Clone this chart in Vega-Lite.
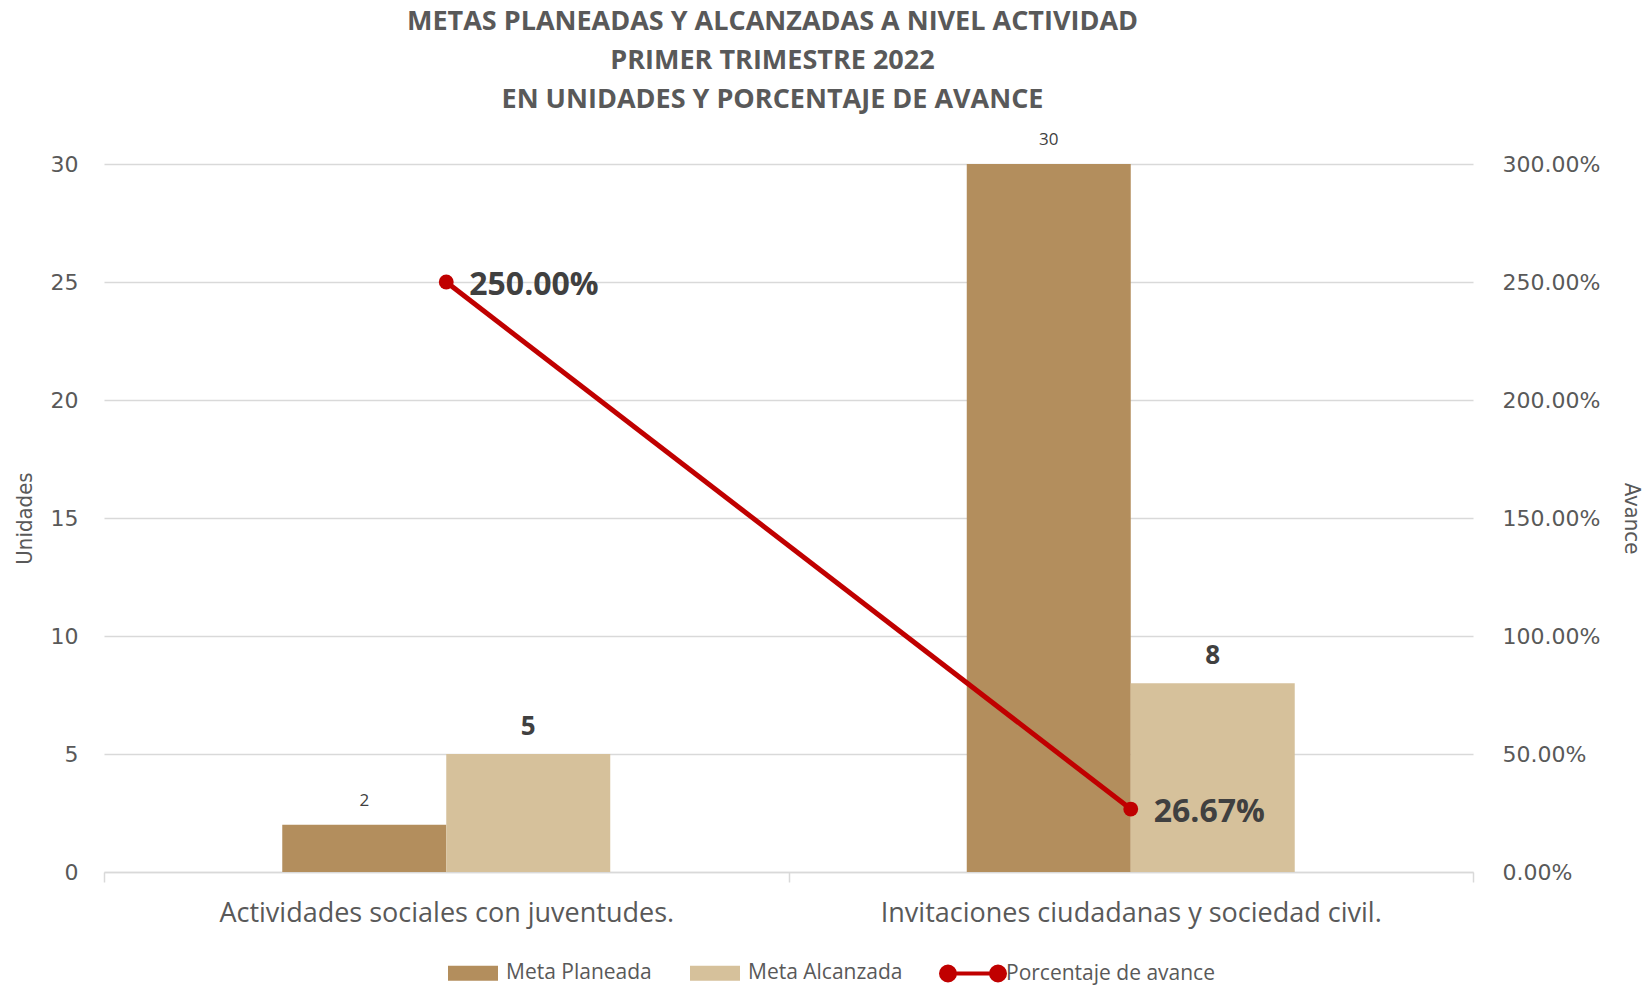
{
  "$schema": "https://vega.github.io/schema/vega-lite/v6.json",
  "width": 1369,
  "height": 708,
  "autosize": {"type": "none"},
  "padding": {"left": 104, "top": 164, "right": 174, "bottom": 113},
  "background": "white",
  "config": {"view": {"stroke": null}},
  "title": {
    "text": ["METAS PLANEADAS Y ALCANZADAS A NIVEL ACTIVIDAD", "PRIMER TRIMESTRE 2022", "EN UNIDADES Y PORCENTAJE DE AVANCE"],
    "font": "Open Sans",
    "fontSize": 27,
    "fontWeight": "bold",
    "color": "#595959",
    "lineHeight": 39,
    "anchor": "middle",
    "offset": 17,
    "dx": -16
  },
  "datasets": {
    "metas": [
      {"categoria": "Actividades sociales con juventudes.", "serie": "Meta Planeada", "valor": 2},
      {"categoria": "Actividades sociales con juventudes.", "serie": "Meta Alcanzada", "valor": 5},
      {"categoria": "Invitaciones ciudadanas y sociedad civil.", "serie": "Meta Planeada", "valor": 30},
      {"categoria": "Invitaciones ciudadanas y sociedad civil.", "serie": "Meta Alcanzada", "valor": 8}
    ],
    "avance": [
      {"categoria": "Actividades sociales con juventudes.", "avance": 2.5},
      {"categoria": "Invitaciones ciudadanas y sociedad civil.", "avance": 0.2667}
    ]
  },
  "layer": [
    {
      "data": {"name": "metas"},
      "encoding": {
        "x": {
          "field": "categoria", "type": "nominal", "sort": null,
          "scale": {"paddingInner": 0, "paddingOuter": 0},
          "axis": {
            "title": null, "labelAngle": 0, "labelFont": "Open Sans", "labelFontSize": 27, "labelLimit": 0,
            "labelColor": "#595959", "labelPadding": 18, "tickBand": "extent", "tickSize": 10,
            "tickColor": "#D9D9D9", "tickWidth": 1.5, "domainColor": "#D9D9D9", "domainWidth": 1.5, "grid": false
          }
        },
        "xOffset": {"field": "serie", "type": "nominal", "scale": {"domain": ["_izq", "Meta Planeada", "Meta Alcanzada", "_der"], "paddingInner": 0, "paddingOuter": 0.087}},
        "y": {
          "field": "valor", "type": "quantitative",
          "scale": {"domain": [0, 30]},
          "axis": {
            "title": "Unidades", "titleFont": "DejaVu Sans Condensed", "titleFontSize": 22, "titleFontWeight": "normal",
            "titleColor": "#595959", "titlePadding": 14, "values": [0, 5, 10, 15, 20, 25, 30],
            "labelFont": "DejaVu Sans", "labelFontSize": 22, "labelColor": "#595959", "labelPadding": 26,
            "ticks": false, "domain": false, "grid": true, "gridColor": "#D9D9D9", "gridWidth": 1.5
          }
        }
      },
      "layer": [
        {
          "mark": {"type": "bar"},
          "encoding": {
            "color": {
              "field": "serie", "type": "nominal",
              "scale": {"domain": ["Meta Planeada", "Meta Alcanzada", "Porcentaje de avance"], "range": ["#B38E5D", "#D6C19B", "#C00000"]},
              "legend": {
                "title": null, "orient": "none", "direction": "horizontal", "legendX": 342, "legendY": 782,
                "labelFont": "Open Sans", "labelFontSize": 21, "labelColor": "#595959", "labelOffset": 6, "labelLimit": 0,
                "columnPadding": 30, "symbolSize": 2500,
                "encode": {
                  "symbols": {
                    "update": {
                      "shape": {"signal": "datum.value === 'Porcentaje de avance' ? 'M-1,0H1M-0.72,0A0.28,0.28 0 1,1 -1.28,0A0.28,0.28 0 1,1 -0.72,0ZM1.28,0A0.28,0.28 0 1,1 0.72,0A0.28,0.28 0 1,1 1.28,0Z' : 'M-1,-0.3H1V0.3H-1Z'"},
                      "stroke": {"signal": "datum.value === 'Porcentaje de avance' ? '#C00000' : 'transparent'"},
                      "strokeWidth": {"value": 4},
                      "fill": {"scale": "color", "field": "value"},
                      "opacity": {"value": 1},
                      "fillOpacity": {"value": 1}
                    }
                  }
                }
              }
            }
          }
        },
        {
          "transform": [{"filter": "datum.serie === 'Meta Planeada'"}],
          "mark": {"type": "text", "font": "Open Sans", "fontSize": 17, "color": "#404040", "baseline": "alphabetic", "dy": -19},
          "encoding": {"text": {"field": "valor", "type": "quantitative"}}
        },
        {
          "transform": [{"filter": "datum.serie === 'Meta Alcanzada'"}],
          "mark": {"type": "text", "font": "Open Sans", "fontSize": 26, "fontWeight": "bold", "color": "#404040", "baseline": "alphabetic", "dy": -19},
          "encoding": {"text": {"field": "valor", "type": "quantitative"}}
        }
      ]
    },
    {
      "data": {"name": "avance"},
      "encoding": {
        "x": {"field": "categoria", "type": "nominal", "sort": null},
        "y": {
          "field": "avance", "type": "quantitative",
          "scale": {"domain": [0, 3]},
          "axis": {
            "orient": "right", "format": ".2%", "title": "Avance", "titleFont": "DejaVu Sans Condensed", "titleFontSize": 22,
            "titleFontWeight": "normal", "titleColor": "#595959", "titlePadding": 20, "values": [0, 0.5, 1, 1.5, 2, 2.5, 3],
            "labelFont": "DejaVu Sans", "labelFontSize": 22, "labelColor": "#595959", "labelPadding": 29,
            "ticks": false, "domain": false, "grid": false
          }
        }
      },
      "layer": [
        {"mark": {"type": "line", "color": "#C00000", "strokeWidth": 5}},
        {"mark": {"type": "point", "filled": true, "color": "#C00000", "size": 220, "opacity": 1}},
        {
          "mark": {"type": "text", "font": "Open Sans", "fontSize": 32, "fontWeight": "bold", "color": "#404040", "align": "left", "baseline": "middle", "dx": 23, "dy": 3},
          "encoding": {"text": {"field": "avance", "type": "quantitative", "format": ".2%"}}
        }
      ]
    }
  ],
  "resolve": {"scale": {"y": "independent"}}
}
